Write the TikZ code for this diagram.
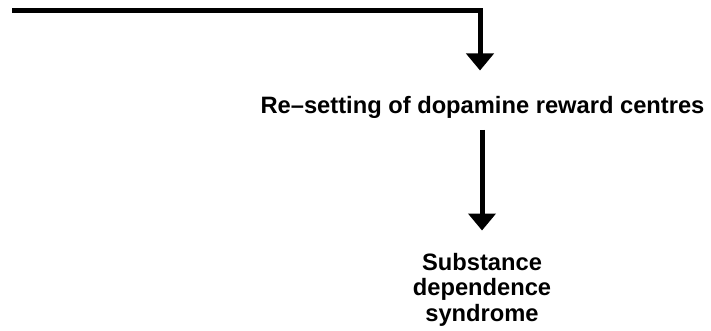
\documentclass[tikz,border=0pt]{standalone}
\usepackage{fontspec}
\setmainfont{Liberation Sans}
\usetikzlibrary{arrows.meta}
\begin{document}
\begin{tikzpicture}[x=1pt,y=-1pt,
  conn/.style={line width=5pt, line join=miter, -{Triangle[length=17pt,width=27pt]}},
  lbl/.style={font=\fontsize{23.7pt}{25.5pt}\selectfont\bfseries, inner sep=0pt, align=center}]
  \useasboundingbox (0,0) rectangle (711,331);
  \node[lbl, anchor=base] (t1) at (482.5,114) {Re--setting of dopamine reward centres};
  \node[lbl, anchor=base] (t2) at (482,321) {Substance\\dependence\\syndrome};
  \coordinate (a0) at (12,10.5);
  \coordinate (a1) at (480,10.5);
  \coordinate (a2) at (480,70.5);
  \coordinate (b0) at (482,119);
  \coordinate (b1) at (482,230.5);
  \draw[conn] (a0) -- (a1) -- (a2);
  \draw[conn, shorten <=11pt] (b0) -- (b1);
\end{tikzpicture}
\end{document}
